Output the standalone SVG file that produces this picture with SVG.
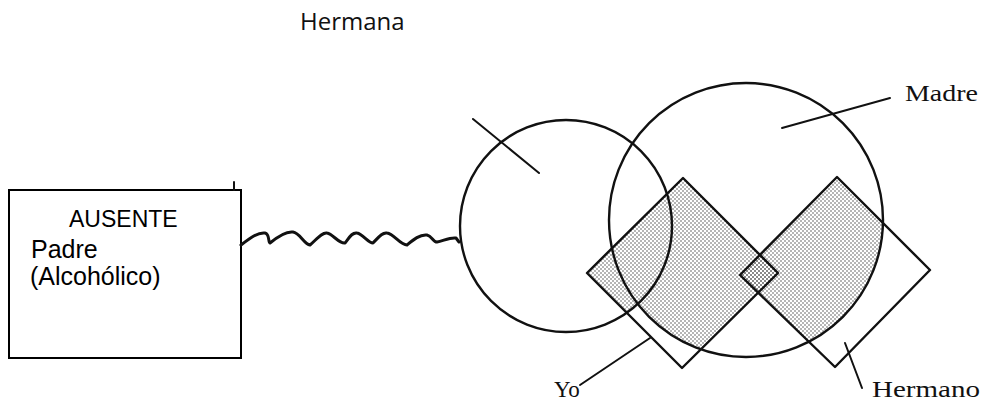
<svg xmlns="http://www.w3.org/2000/svg" width="985" height="403" viewBox="0 0 985 403">
  <style>
    .ink { fill: none; stroke: #111; stroke-linecap: round; stroke-linejoin: round; }
    .shape { stroke-width: 2.4; }
    .ptr { stroke-width: 2; }
    .box { fill: #fff; stroke: #000; stroke-width: 2; }
    .sans { font-family: "Liberation Sans", Arial, sans-serif; fill: #000; }
    .cal { font-family: "Open Sans", "Liberation Sans", sans-serif; fill: #111; }
    .ser { font-family: "Liberation Serif", "Times New Roman", serif; fill: #111; }
  </style>
  <defs>
    <pattern id="dots" width="4" height="4" patternUnits="userSpaceOnUse">
      <circle cx="1" cy="1" r="0.75" fill="#444"/>
      <circle cx="3" cy="3" r="0.75" fill="#444"/>
    </pattern>
    <clipPath id="circles">
      <circle cx="566" cy="226" r="106"/>
      <circle cx="746" cy="220" r="137"/>
    </clipPath>
  </defs>

  <rect width="985" height="403" fill="#fff"/>

  <g id="hermana-label">
    <text class="cal" x="300" y="30" font-size="24">Hermana</text>
  </g>

  <g id="shading" clip-path="url(#circles)">
    <path d="M683,178 L778,273 L682,368 L587,273 Z" fill="url(#dots)"/>
    <path d="M837,177 L930,270 L835,367 L740,275 Z" fill="url(#dots)"/>
  </g>

  <g id="hermana-circle">
    <circle class="ink shape" cx="566" cy="226" r="106"/>
  </g>
  <g id="madre">
    <circle class="ink shape" cx="746" cy="220" r="137"/>
    <text class="ser" x="905" y="101" font-size="23" textLength="73" lengthAdjust="spacingAndGlyphs">Madre</text>
  </g>
  <g id="yo">
    <path class="ink shape" d="M683,178 L778,273 L682,368 L587,273 Z"/>
    <text class="ser" x="554" y="397" font-size="23">Yo</text>
  </g>
  <g id="hermano">
    <path class="ink shape" d="M837,177 L930,270 L835,367 L740,275 Z"/>
    <text class="ser" x="872" y="397" font-size="23" textLength="108" lengthAdjust="spacingAndGlyphs">Hermano</text>
  </g>

  <g id="padre">
    <rect class="box" x="9" y="190" width="232" height="168"/>
    <text class="sans" x="69" y="227" font-size="23">AUSENTE</text>
    <text class="sans" x="31" y="258" font-size="25">Padre</text>
    <text class="sans" x="30" y="285" font-size="25">(Alcohólico)</text>
  </g>

  <g id="connectors">
    <line class="ink ptr" x1="234" y1="182" x2="234" y2="190"/>
    <path class="ink" stroke-width="3" d="M241,245 C250,238 258,232 265,233 C270,234 268,243 270,243 C276,238 286,231 293,232 C300,233 304,244 310,245 C316,240 322,232 327,233 C333,234 339,244 345,243 C349,238 352,232 357,233 C363,234 368,243 373,243 C378,238 382,232 387,233 C394,234 400,245 407,245 C413,240 420,234 427,235 C432,236 433,242 437,242 C443,241 450,237 456,238 L459,242"/>
    <line class="ink ptr" x1="473" y1="119" x2="539" y2="173"/>
    <line class="ink ptr" x1="782" y1="128" x2="890" y2="98"/>
    <line class="ink ptr" x1="580" y1="385" x2="650" y2="338"/>
    <line class="ink ptr" x1="845" y1="343" x2="862" y2="388"/>
  </g>
</svg>
